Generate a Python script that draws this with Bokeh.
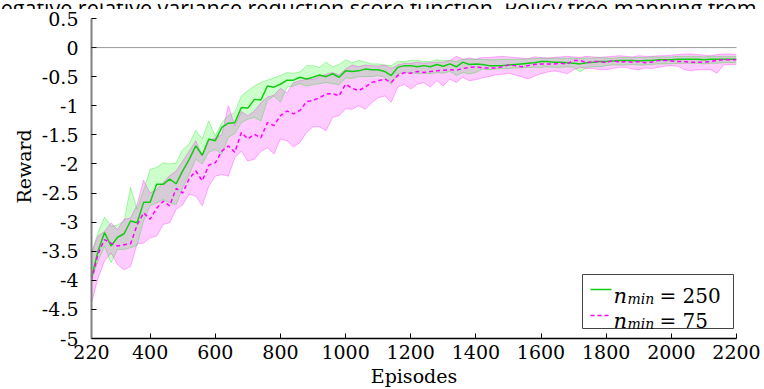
from bokeh.plotting import figure
from bokeh.layouts import column, row
from bokeh.models import Range1d, FixedTicker, Label, Span
from bokeh.core.properties import value
from bokeh.embed import file_html
from bokeh.resources import INLINE

# ---- data -----------------------------------------------------------------
episodes = list(range(220, 2201, 20))

# n_min = 250 : mean reward and band limits
g_mean = [
    -3.95, -3.5, -3.18, -3.41, -3.26, -3.2, -2.98, -3.01, -2.66, -2.66,
    -2.35, -2.35, -2.26, -2.34, -2.12, -1.92, -1.69, -1.85, -1.57, -1.6,
    -1.37, -1.3, -1.29, -1.03, -1.04, -0.89, -0.9, -0.66, -0.68, -0.63,
    -0.56, -0.56, -0.51, -0.54, -0.51, -0.47, -0.5, -0.45, -0.51, -0.4,
    -0.41, -0.40, -0.37, -0.38, -0.38, -0.41, -0.48, -0.34, -0.31, -0.31,
    -0.33, -0.31, -0.33, -0.29, -0.32, -0.28, -0.33, -0.25, -0.29, -0.28,
    -0.29, -0.31, -0.31, -0.31, -0.3, -0.29, -0.28, -0.27, -0.26, -0.24,
    -0.24, -0.25, -0.25, -0.26, -0.27, -0.28, -0.26, -0.25, -0.24,
    -0.24, -0.23, -0.22, -0.22, -0.22, -0.23, -0.22, -0.22, -0.21, -0.21,
    -0.21, -0.2, -0.2, -0.2, -0.2, -0.21, -0.2, -0.2, -0.2, -0.2, -0.2,
]
g_upper = [
    -3.53, -3.18, -2.91, -3.07, -3.05, -2.98, -2.4, -2.78, -2.45, -2.09,
    -2.06, -1.98, -2.0, -1.98, -1.75, -1.66, -1.42, -1.57, -1.26, -1.52,
    -1.29, -1.17, -1.11, -0.83, -0.74, -0.66, -0.6, -0.56, -0.52, -0.48,
    -0.43, -0.44, -0.42, -0.31, -0.31, -0.34, -0.25, -0.33, -0.29, -0.21,
    -0.26, -0.22, -0.25, -0.28, -0.28, -0.3, -0.31, -0.24, -0.24, -0.22,
    -0.22, -0.24, -0.24, -0.21, -0.22, -0.22, -0.24, -0.2, -0.2, -0.2,
    -0.2, -0.21, -0.21, -0.2, -0.2, -0.2, -0.2, -0.19, -0.19, -0.18,
    -0.18, -0.18, -0.18, -0.18, -0.18, -0.19, -0.18, -0.18, -0.17,
    -0.18, -0.18, -0.17, -0.17, -0.17, -0.17, -0.17, -0.16, -0.16, -0.16,
    -0.16, -0.15, -0.15, -0.15, -0.15, -0.16, -0.15, -0.15, -0.15, -0.15, -0.15,
]
g_lower = [
    -4.0, -3.67, -3.41, -3.7, -3.47, -3.47, -3.44, -3.4, -2.98, -2.72,
    -2.67, -2.61, -2.67, -2.7, -2.41, -2.18, -1.92, -2.0, -1.8, -1.75,
    -1.83, -1.54, -1.48, -1.29, -1.23, -1.2, -1.26, -0.91, -0.83, -0.94,
    -0.68, -0.66, -0.62, -0.66, -0.64, -0.62, -0.6, -0.62, -0.64, -0.52,
    -0.53, -0.5, -0.5, -0.5, -0.48, -0.51, -0.63, -0.45, -0.43, -0.43,
    -0.45, -0.44, -0.45, -0.43, -0.44, -0.41, -0.48, -0.43, -0.45, -0.43,
    -0.37, -0.38, -0.37, -0.36, -0.36, -0.35, -0.35, -0.34, -0.34, -0.34,
    -0.33, -0.34, -0.34, -0.33, -0.34, -0.42, -0.34, -0.33, -0.33,
    -0.31, -0.3, -0.3, -0.3, -0.29, -0.3, -0.3, -0.29, -0.28, -0.28,
    -0.28, -0.27, -0.27, -0.27, -0.27, -0.28, -0.27, -0.27, -0.26, -0.26, -0.26,
]

# n_min = 75 : mean reward and band limits
m_mean = [
    -4.0, -3.55, -3.3, -3.36, -3.41, -3.39, -3.37, -3.05, -2.84, -2.95,
    -2.76, -2.64, -2.72, -2.42, -2.5, -2.25, -2.12, -2.29, -2.02, -1.98,
    -1.78, -1.69, -1.8, -1.46, -1.57, -1.49, -1.55, -1.29, -1.34, -1.17,
    -1.09, -1.14, -1.08, -0.93, -0.91, -0.86, -0.8, -0.79, -0.83, -0.63,
    -0.7, -0.74, -0.68, -0.6, -0.57, -0.54, -0.6, -0.48, -0.43, -0.44,
    -0.41, -0.43, -0.41, -0.4, -0.39, -0.38, -0.39, -0.36, -0.34, -0.33,
    -0.35, -0.35, -0.35, -0.33, -0.3, -0.31, -0.33, -0.31, -0.29, -0.28,
    -0.28, -0.28, -0.27, -0.28, -0.22, -0.22, -0.26, -0.24, -0.24,
    -0.26, -0.22, -0.25, -0.24, -0.25, -0.24, -0.26, -0.25, -0.22, -0.22,
    -0.23, -0.24, -0.24, -0.25, -0.25, -0.25, -0.24, -0.22, -0.21, -0.21, -0.21,
]
m_upper = [
    -3.53, -3.24, -3.16, -3.01, -3.13, -2.95, -2.93, -2.7, -2.28, -2.5,
    -2.44, -2.32, -2.2, -2.12, -1.95, -1.78, -1.6, -1.86, -1.6, -1.55,
    -1.5, -1.0, -1.35, -1.1, -1.17, -1.09, -0.95, -0.85, -0.82, -0.7,
    -0.78, -0.6, -0.57, -0.54, -0.55, -0.5, -0.46, -0.43, -0.47, -0.37,
    -0.3, -0.33, -0.3, -0.31, -0.32, -0.3, -0.36, -0.3, -0.27, -0.27,
    -0.25, -0.27, -0.26, -0.25, -0.25, -0.22, -0.15, -0.2, -0.18, -0.2,
    -0.17, -0.17, -0.16, -0.15, -0.16, -0.17, -0.18, -0.19, -0.16, -0.17,
    -0.18, -0.17, -0.16, -0.15, -0.16, -0.17, -0.15, -0.16, -0.17,
    -0.16, -0.15, -0.14, -0.15, -0.16, -0.14, -0.15, -0.15, -0.14, -0.14,
    -0.13, -0.12, -0.11, -0.11, -0.12, -0.13, -0.14, -0.12, -0.11, -0.11, -0.12,
]
m_lower = [
    -4.39, -3.96, -3.67, -3.53, -3.73, -3.82, -3.76, -3.37, -3.36, -3.27,
    -3.24, -3.04, -3.01, -2.78, -2.7, -2.52, -2.55, -2.72, -2.38, -2.21,
    -2.18, -2.21, -1.89, -1.78, -1.95, -1.92, -1.78, -1.72, -1.83, -1.57,
    -1.6, -1.71, -1.63, -1.46, -1.36, -1.36, -1.43, -1.2, -1.17, -1.05,
    -1.06, -1.0, -1.06, -0.95, -0.86, -0.83, -0.94, -0.68, -0.63, -0.71,
    -0.63, -0.6, -0.68, -0.57, -0.66, -0.54, -0.6, -0.51, -0.57, -0.55,
    -0.52, -0.5, -0.47, -0.46, -0.44, -0.47, -0.5, -0.54, -0.49, -0.45,
    -0.42, -0.4, -0.42, -0.45, -0.38, -0.34, -0.36, -0.36, -0.38,
    -0.38, -0.36, -0.34, -0.34, -0.37, -0.38, -0.35, -0.36, -0.34, -0.32,
    -0.31, -0.32, -0.38, -0.4, -0.38, -0.38, -0.38, -0.44, -0.3, -0.29, -0.29,
]

x_ticks = [220, 400, 600, 800, 1000, 1200, 1400, 1600, 1800, 2000, 2200]
y_ticks = [0.5, 0, -0.5, -1, -1.5, -2, -2.5, -3, -3.5, -4, -4.5, -5]
y_tick_labels = ["0.5", "0", "-0.5", "-1", "-1.5", "-2", "-2.5", "-3",
                 "-3.5", "-4", "-4.5", "-5"]

title_text = "Negative relative variance reduction score function. Policy tree mapping from"
legend_values = ["250", "75"]

# ---- layout constants (window pixels) --------------------------------------
W = 764
TITLE_H = 9                 # strip holding the clipped title line
H = 389 - TITLE_H           # main chart
LEFT, RIGHT, TOP, BOTTOM = 91, 28, 9, 51
SERIF = "DejaVu Serif"
FRAME_TOP = TITLE_H + TOP   # window row of reward 0.5
fw = W - LEFT - RIGHT
fh = H - TOP - BOTTOM


def xd(px):
    """window pixel column -> episode"""
    return 220 + (px - LEFT) * (2200 - 220) / fw


def yd(py):
    """window pixel row -> reward"""
    return 0.5 - (py - FRAME_TOP) * 5.5 / fh


# ---- title strip ----------------------------------------------------------
t = figure(width=W, height=TITLE_H, output_backend="svg", toolbar_location=None,
           x_range=Range1d(0, W), y_range=Range1d(TITLE_H, 0),
           x_axis_type=None, y_axis_type=None, min_border=0,
           min_border_left=0, min_border_right=0,
           min_border_top=0, min_border_bottom=0)
t.outline_line_color = None
t.grid.visible = False
t.text(x=[-16], y=[4], text=[title_text], text_font=value("Open Sans"),
       text_font_size="21.5px", text_align="left", text_baseline="alphabetic",
       text_color="black")

# ---- main chart -----------------------------------------------------------
p = figure(width=W, height=H, output_backend="svg", toolbar_location=None,
           x_range=Range1d(220, 2200), y_range=Range1d(-5, 0.5),
           min_border_left=LEFT, min_border_right=RIGHT,
           min_border_top=TOP, min_border_bottom=BOTTOM)
p.outline_line_color = None
p.grid.visible = False

xa = p.xaxis[0]
xa.ticker = FixedTicker(ticks=x_ticks)
xa.major_tick_in = 5
xa.major_tick_out = 0
xa.minor_tick_line_color = None
xa.axis_line_color = "black"
xa.axis_line_width = 1.5
xa.major_tick_line_color = "black"
xa.major_label_text_font = SERIF
xa.major_label_text_font_size = "19px"
xa.major_label_text_color = "black"
xa.major_label_standoff = 6
xa.axis_label = "Episodes"
xa.axis_label_text_font = SERIF
xa.axis_label_text_font_size = "19px"
xa.axis_label_text_font_style = "normal"
xa.axis_label_text_color = "black"
xa.axis_label_standoff = 3

ya = p.yaxis[0]
ya.ticker = FixedTicker(ticks=y_ticks)
ya.major_label_overrides = {float(v): s for v, s in zip(y_ticks, y_tick_labels)}
ya.major_tick_in = 5
ya.major_tick_out = 0
ya.minor_tick_line_color = None
ya.axis_line_color = "#808080"
ya.axis_line_width = 2
ya.major_tick_line_color = "black"
ya.major_label_text_font = SERIF
ya.major_label_text_font_size = "19px"
ya.major_label_text_color = "black"
ya.major_label_standoff = 13
ya.axis_label = "\u00a0\u00a0\u00a0\u00a0Reward"
ya.axis_label_text_font = SERIF
ya.axis_label_text_font_size = "19px"
ya.axis_label_text_font_style = "normal"
ya.axis_label_text_color = "black"
ya.axis_label_standoff = 4

# zero reference line
p.add_layout(Span(location=0, dimension="width", line_color="#333333",
                  line_width=1, line_dash="1 1"))

# bands
p.varea(x=episodes, y1=g_lower, y2=g_upper, fill_color="#00ff00", fill_alpha=0.2)
p.varea(x=episodes, y1=m_lower, y2=m_upper, fill_color="#ff00ff", fill_alpha=0.2)
for arr in (g_upper, g_lower):
    p.line(episodes, arr, line_color="#00dd00", line_alpha=0.3, line_width=1)
for arr in (m_upper, m_lower):
    p.line(episodes, arr, line_color="#ff00ff", line_alpha=0.3, line_width=1)

# means
p.line(episodes, g_mean, line_color="#11cc11", line_width=1.5)
p.line(episodes, m_mean, line_color="#ff00ff", line_width=1.5, line_dash="4 3")

# legend box
p.quad(left=xd(582), right=xd(733), top=yd(274), bottom=yd(328),
       fill_color="white", line_color="#444444", line_width=1)
p.line([xd(590), xd(611)], [yd(289), yd(289)], line_color="#11cc11", line_width=1.5)
p.line([xd(590), xd(611)], [yd(315), yd(315)], line_color="#ff00ff",
       line_width=1.5, line_dash="4 3")
for base, val in zip((295, 320), legend_values):
    p.add_layout(Label(x=xd(613), y=yd(base), text="n", text_font=SERIF,
                       text_font_style="italic", text_font_size="21px",
                       text_baseline="alphabetic", text_color="black"))
    p.add_layout(Label(x=xd(627), y=yd(base + 3), text="min", text_font=SERIF,
                       text_font_style="italic", text_font_size="14px",
                       text_baseline="alphabetic", text_color="black"))
    p.add_layout(Label(x=xd(659), y=yd(base), text="= " + val, text_font=SERIF,
                       text_font_size="20px", text_baseline="alphabetic",
                       text_color="black"))

# the strip sits in its own row so its frame keeps the full window width
layout = column(row(t), p, spacing=0)
open("out.html", "w").write(file_html(layout, INLINE))
